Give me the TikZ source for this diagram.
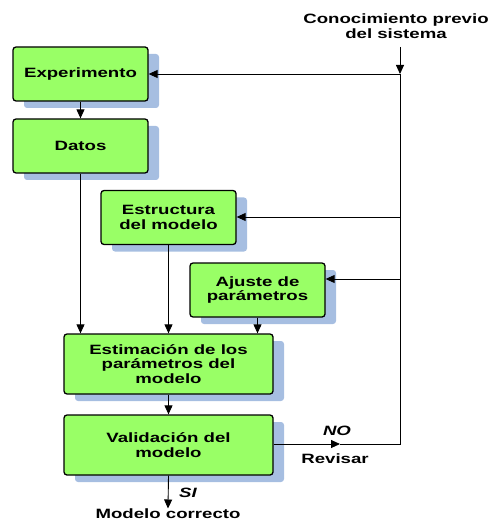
\documentclass[tikz,border=0pt]{standalone}
\usepackage{fontspec}
\setmainfont{Liberation Sans}[FakeStretch=1.38]
\usetikzlibrary{arrows.meta,shadows}
\definecolor{boxgreen}{RGB}{153,255,102}
\definecolor{shadowblue}{RGB}{166,190,225}
\begin{document}
\begin{tikzpicture}[x=1pt,y=-1pt,
  every node/.style={font=\fontsize{13.5}{14.5}\selectfont\bfseries, align=center},
  procbox/.style={draw=black, line width=1.3pt, fill=boxgreen, rounded corners=3pt,
    inner sep=0pt, minimum width=135pt, minimum height=54pt,
    general shadow={fill=shadowblue, draw=none, shadow xshift=11pt, shadow yshift=-7pt}},
  widebox/.style={procbox, minimum width=209pt, minimum height=60pt},
  conn/.style={line width=0.9pt},
  arr/.style={conn, -{Triangle[length=9pt,width=8pt]}},
  lbl/.style={inner sep=0pt}
]
\useasboundingbox (0,0) rectangle (489,521);
\node[procbox] (exp) at (80.5,74) {Experimento};
\node[procbox] (dat) at (80.5,146) {Datos};
\node[procbox] (est) at (168.5,217.5) {Estructura\\del modelo};
\node[procbox] (aju) at (257.5,290) {Ajuste de\\parámetros};
\node[widebox] (estim) at (168.5,364) {Estimación de los\\parámetros del\\modelo};
\node[widebox] (val) at (168.5,445) {Validación del\\modelo};

\node[lbl] (con) at (396,26) {Conocimiento previo\\del sistema};
\node[lbl] (no) at (337,431) {\itshape NO};
\node[lbl] (rev) at (335,459) {Revisar};
\node[lbl] (si) at (188,493) {\itshape SI};
\node[lbl, anchor=north] (mc) at (168,508.5) {Modelo correcto};

\coordinate (ctop) at (400,47);
\coordinate (cexp) at (400,74);
\coordinate (cest) at (400,217);
\coordinate (caju) at (400,279);
\coordinate (cval) at (400,444);
\coordinate (nomid) at (340,444);

\draw[arr] (ctop) -- (cexp);
\draw[arr] (cexp) -- (exp.east |- cexp);
\draw[arr] (cest) -- (est.east |- cest);
\draw[arr] (caju) -- (aju.east |- caju);
\draw[conn] (cexp) -- (cval) -- (nomid);
\draw[arr] (val.east |- cval) -- (nomid);

\draw[arr] (exp) -- (dat);
\draw[arr] (dat.south) -- (dat.south |- estim.north);
\draw[arr] (est.south) -- (est.south |- estim.north);
\draw[arr] (aju.south) -- (aju.south |- estim.north);
\draw[arr] (estim) -- (val);
\draw[arr] (val.south) -- (mc.north);
\end{tikzpicture}
\end{document}
